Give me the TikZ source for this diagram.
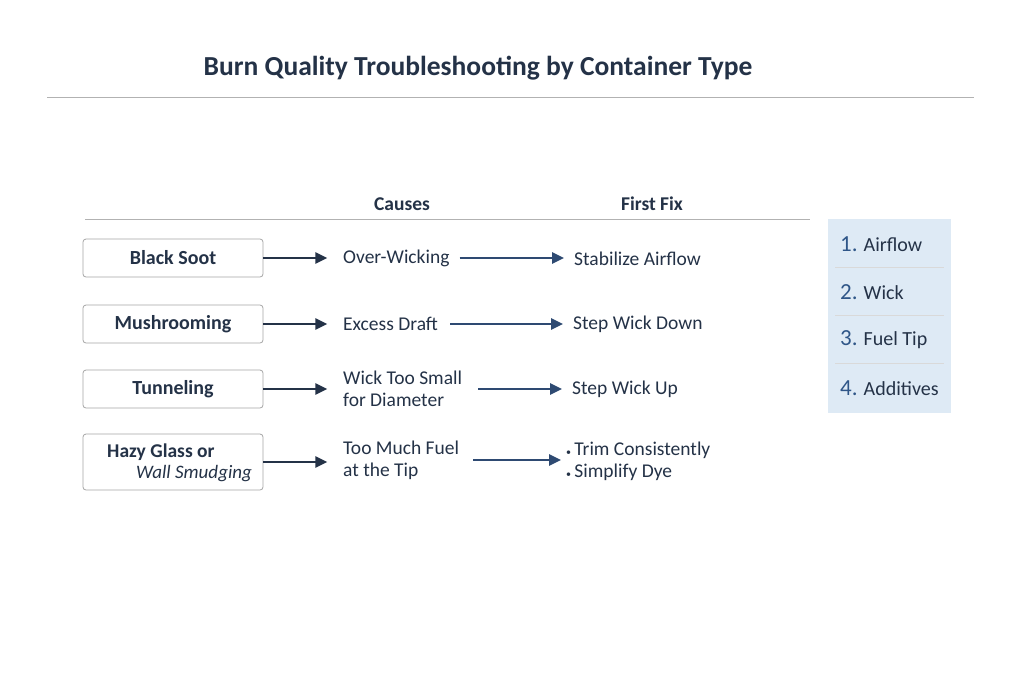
\documentclass[tikz,border=0pt]{standalone}
\usepackage{fontspec}
\setmainfont{Carlito}
\usetikzlibrary{arrows.meta}
\definecolor{navy}{HTML}{243247}
\definecolor{arr}{HTML}{2E4A72}
\definecolor{num}{HTML}{2F5688}
\definecolor{panel}{HTML}{DEEAF5}
\tikzset{
 box/.style={draw=gray!70,rounded corners=3pt,minimum width=180pt,line width=0.8pt,font=\fontsize{20}{22}\selectfont\bfseries,text=navy},
 txt/.style={anchor=west,font=\fontsize{19.5}{22}\selectfont,text=navy,align=left,inner sep=0},
 a1/.style={-{Triangle[length=12pt,width=11pt]},line width=2.6pt,color=navy},
 a2/.style={-{Triangle[length=12pt,width=11pt]},line width=2.6pt,color=arr},
 hd/.style={font=\fontsize{19.5}{22}\selectfont\bfseries,text=navy},
 it/.style={anchor=west,font=\fontsize{20}{22}\selectfont,text=navy,inner sep=0},
}
\newcommand{\nm}[1]{\textcolor{num}{\fontsize{23}{22}\selectfont #1.}}
\newcommand{\bul}{{\fontsize{10}{10}\selectfont\textbullet}\,}
\begin{document}
\begin{tikzpicture}[x=1pt,y=-1pt]
\useasboundingbox (0,0) rectangle (1024,683);
\fill[white] (0,0) rectangle (1024,683);
\node[font=\fontsize{27.5}{30}\selectfont\bfseries,text=navy] (title) at (478,68) {Burn Quality Troubleshooting by Container Type};
\draw[gray!60,line width=0.8pt] (47,97) -- (974,97);
\node[hd] (hc) at (402,204) {Causes};
\node[hd] (hf) at (652,204) {First Fix};
\draw[gray!60,line width=0.8pt] (85,219) -- (810,219);
% rows
\node[box,minimum height=38pt] (b1) at (173,258) {Black Soot};
\node[box,minimum height=38pt] (b2) at (173,324) {Mushrooming};
\node[box,minimum height=38pt] (b3) at (173,389) {Tunneling};
\node[box,minimum height=56pt] (b4) at (173,462) {};
\node[anchor=west,inner sep=0,font=\fontsize{19.5}{22}\selectfont\bfseries,text=navy] (b4a) at (107,452) {Hazy Glass or};
\node[anchor=west,inner sep=0,font=\fontsize{19}{22}\selectfont\itshape,text=navy] (b4b) at (136,474) {Wall Smudging};
\node[txt] (c1) at (343,258) {Over-Wicking};
\node[txt] (c2) at (343,324) {Excess Draft};
\node[txt] (c3) at (343,389) {Wick Too Small\\for Diameter};
\node[txt] (c4) at (343,460) {Too Much Fuel\\at the Tip};
\node[txt] (f1) at (574,259) {Stabilize Airflow};
\node[txt] (f2) at (573,324) {Step Wick Down};
\node[txt] (f3) at (572,389) {Step Wick Up};
\node[txt] (f4) at (566,461) {\bul Trim Consistently\\\bul Simplify Dye};
\foreach \i in {1,...,4}{\draw[a1] (b\i.east) -- ++(64,0);}
\draw[a2] ([xshift=10pt]c1.east) -- ([xshift=-10pt]f1.west |- c1.east);
\draw[a2] ([xshift=12pt]c2.east) -- ([xshift=-10pt]f2.west |- c2.east);
\draw[a2] ([xshift=16pt]c3.east) -- ([xshift=-10pt]f3.west |- c3.east);
\draw[a2] ([xshift=14pt]c4.east) -- ([xshift=-5pt]f4.west |- c4.east);
% panel
\fill[panel] (828,219) rectangle (951,413);
\foreach \y in {267,315,363}{\draw[gray!30,line width=0.6pt] (835,\y) -- (944,\y);}
\node[it] (p1) at (840,244) {\nm{1} Airflow};
\node[it] (p2) at (840,292) {\nm{2} Wick};
\node[it] (p3) at (840,340) {\nm{3} Fuel Tip};
\node[it] (p4) at (840,388) {\nm{4} Additives};
\end{tikzpicture}
\end{document}
